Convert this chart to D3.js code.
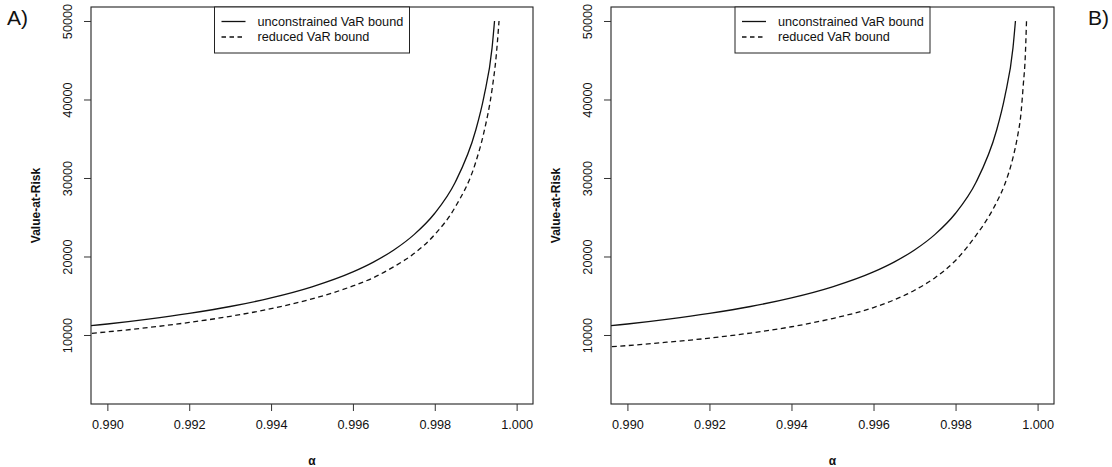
<!DOCTYPE html>
<html>
<head>
<meta charset="utf-8">
<script src="https://cdn.jsdelivr.net/npm/d3@7"></script>
<style>
  html, body { margin: 0; padding: 0; background: #fff; }
  svg { display: block; }
  text { font-family: Arial, "Liberation Sans", Helvetica, sans-serif; fill: #111; }
</style>
</head>
<body>
<svg id="chart" width="1112" height="467"></svg>
<script>
// ---------- data ----------
const alphaUnc = [0.989, 0.990, 0.991, 0.992, 0.993, 0.994, 0.995, 0.996, 0.9965, 0.997, 0.9975, 0.998, 0.9985, 0.999, 0.9992, 0.9994, 0.99946];
const varUnc   = [10880, 11400, 12030, 12760, 13630, 14730, 16140, 18040, 19290, 20830, 22820, 25510, 29460, 36080, 40340, 46580, 50000];

const alphaRedA = [0.989, 0.990, 0.991, 0.992, 0.993, 0.994, 0.995, 0.996, 0.9965, 0.997, 0.9975, 0.998, 0.9985, 0.999, 0.9992, 0.9994, 0.9995, 0.99957];
const varRedA   = [9950, 10400, 10950, 11600, 12380, 13350, 14600, 16250, 17300, 18700, 20400, 22800, 26300, 32000, 35800, 41300, 45500, 50000];

const alphaRedB = [0.989, 0.990, 0.991, 0.992, 0.993, 0.994, 0.995, 0.996, 0.997, 0.9975, 0.998, 0.9985, 0.9988, 0.999, 0.9992, 0.9994, 0.9995, 0.9996, 0.99965, 0.9997, 0.99973];
const varRedB   = [8300, 8650, 9100, 9600, 10250, 11050, 12100, 13500, 15700, 17300, 19500, 22700, 25000, 26900, 29200, 32600, 35000, 38500, 41800, 45500, 50000];

const xTicks = [0.990, 0.992, 0.994, 0.996, 0.998, 1.000];
const yTicks = [10000, 20000, 30000, 40000, 50000];
const seriesNames = ["unconstrained VaR bound", "reduced VaR bound"];
const panelLabels = ["A)", "B)"];

// ---------- layout ----------
const svg = d3.select("#chart");
const FS = 12.7;
const panels = [
  { left: 91,  right: 533,  label: panelLabels[0], labelX: 7,    red: [alphaRedA, varRedA] },
  { left: 611, right: 1054, label: panelLabels[1], labelX: 1088, red: [alphaRedB, varRedB] }
];
const plotTop = 7, plotBottom = 404;

const zip = (a, b) => a.map((v, i) => [v, b[i]]);

panels.forEach((p, pi) => {
  const x = d3.scaleLinear().domain([0.9896, 1.0004]).range([p.left, p.right]);
  const y = d3.scaleLinear().domain([1210, 51783]).range([plotBottom, plotTop]);
  const g = svg.append("g");

  const clipId = "clip" + pi;
  svg.append("defs").append("clipPath").attr("id", clipId)
    .append("rect").attr("x", p.left).attr("y", plotTop)
    .attr("width", p.right - p.left).attr("height", plotBottom - plotTop);

  const line = d3.line().x(d => x(d[0])).y(d => y(d[1])).curve(d3.curveMonotoneX);

  const curves = g.append("g").attr("clip-path", `url(#${clipId})`);
  curves.append("path").datum(zip(alphaUnc, varUnc))
    .attr("d", line).attr("fill", "none").attr("stroke", "#111").attr("stroke-width", 1.3);
  curves.append("path").datum(zip(p.red[0], p.red[1]))
    .attr("d", line).attr("fill", "none").attr("stroke", "#111").attr("stroke-width", 1.3)
    .attr("stroke-dasharray", "5,3.5");

  // box
  g.append("rect").attr("x", p.left).attr("y", plotTop)
    .attr("width", p.right - p.left).attr("height", plotBottom - plotTop)
    .attr("fill", "none").attr("stroke", "#222").attr("stroke-width", 1.1);

  // x axis
  const xa = d3.axisBottom(x).tickValues(xTicks).tickFormat(d3.format(".3f")).tickSize(7).tickPadding(9);
  const xg = g.append("g").attr("transform", `translate(0,${plotBottom})`).call(xa);
  xg.select(".domain").remove();
  xg.selectAll("line").attr("stroke", "#333");
  xg.selectAll("text").attr("font-size", FS).attr("fill", "#111")
    .attr("font-family", "Arial, 'Liberation Sans', sans-serif");

  // y axis
  const ya = d3.axisLeft(y).tickValues(yTicks).tickFormat(d3.format("d")).tickSize(7);
  const yg = g.append("g").attr("transform", `translate(${p.left},0)`).call(ya);
  yg.select(".domain").remove();
  yg.selectAll("line").attr("stroke", "#333");
  yg.selectAll("text")
    .attr("x", null).attr("dy", null)
    .attr("text-anchor", "middle")
    .attr("font-size", FS).attr("fill", "#111")
    .attr("font-family", "Arial, 'Liberation Sans', sans-serif")
    .attr("transform", "translate(-23,0) rotate(-90)")
    .attr("dy", "0.35em");

  // axis titles
  g.append("text").attr("transform", `translate(${p.left - 55},${(plotTop + plotBottom) / 2}) rotate(-90)`)
    .attr("text-anchor", "middle").attr("dy", "0.35em")
    .attr("font-size", 12).attr("font-weight", "bold").text("Value-at-Risk");
  g.append("text").attr("x", (p.left + p.right) / 2).attr("y", 465)
    .attr("text-anchor", "middle").attr("font-size", 12).attr("font-weight", "bold").text("α");

  // legend
  const cx = (p.left + p.right) / 2;
  const lw = 195, lx = cx - lw / 2;
  const lg = g.append("g");
  lg.append("rect").attr("x", lx).attr("y", plotTop).attr("width", lw).attr("height", 46)
    .attr("fill", "#fff").attr("stroke", "#222").attr("stroke-width", 1);
  const ly = [21.5, 37];
  seriesNames.forEach((name, i) => {
    lg.append("line").attr("x1", lx + 7).attr("x2", lx + 31).attr("y1", ly[i]).attr("y2", ly[i])
      .attr("stroke", "#111").attr("stroke-width", 1.3)
      .attr("stroke-dasharray", i === 1 ? "4.5,3.5" : null);
    lg.append("text").attr("x", lx + 43).attr("y", ly[i]).attr("dy", "0.35em")
      .attr("font-size", FS).text(name);
  });

  // panel label
  svg.append("text").attr("x", p.labelX).attr("y", 25).attr("font-size", 21).text(p.label);
});
</script>
</body>
</html>
